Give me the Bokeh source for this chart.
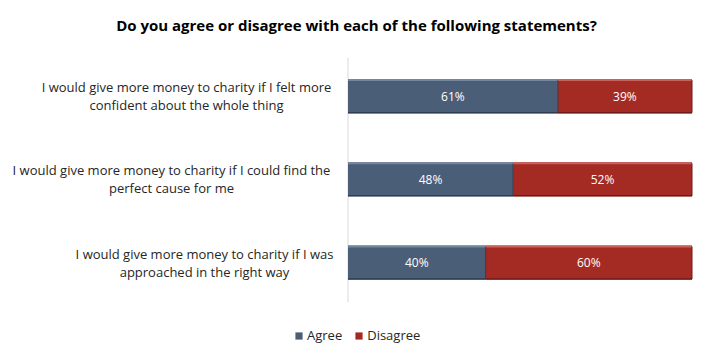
from bokeh.plotting import figure
from bokeh.models import ColumnDataSource, Label, Range1d
from bokeh.embed import file_html
from bokeh.resources import INLINE
from bokeh.core.properties import value

title = "Do you agree or disagree with each of the following statements?"
statements = [
    "I would give more money to charity if I felt more\nconfident about the whole thing",
    "I would give more money to charity if I could find the\nperfect cause for me",
    "I would give more money to charity if I was\napproached in the right way",
]
agree = [61, 48, 40]
disagree = [39, 52, 60]
series = ["Agree", "Disagree"]
colors = ["#4B5E77", "#A32B24"]
edge_colors = ["#2f3d50", "#6e1a16"]
hi_colors = ["#7487a0", "#c8625a"]

W, H = 694, 344
# plot-area box in canvas pixels
PL, PR, PT, PB = 347.5, 691.5, 54, 303.6
AXIS_TOP, AXIS_BOT = 57, 302
FONT = "Open Sans"

n = len(statements)
ys = [n - i - 0.5 for i in range(n)]
BAR_H = 0.41

sx = (PR - PL) / 100.0          # px per x unit
sy = (PB - PT) / n              # px per y unit
x_start = -PL / sx
x_end = 100 + (W - PR) / sx
y_start = -(H - PB) / sy
y_end = n + PT / sy


def dx(px):
    return (px - PL) / sx


def dy(py):
    return (PB - py) / sy


p = figure(width=W, height=H, output_backend="svg", toolbar_location=None,
           x_range=Range1d(x_start, x_end), y_range=Range1d(y_start, y_end),
           min_border=0)
p.outline_line_color = None
p.xgrid.visible = False
p.ygrid.visible = False
p.xaxis.visible = False
p.yaxis.visible = False

src = ColumnDataSource(dict(
    y=ys,
    ytop=[y + BAR_H / 2 - 1.0 / sy for y in ys],
    ybot=[y - BAR_H / 2 + 0.5 / sy for y in ys],
    a0=[0] * n, a1=agree,
    d0=agree, d1=[a + d for a, d in zip(agree, disagree)],
    amid=[a / 2 for a in agree],
    dmid=[a + d / 2 for a, d in zip(agree, disagree)],
    atxt=[f"{a}%" for a in agree],
    dtxt=[f"{d}%" for d in disagree],
))

# category axis line
p.segment(x0=[0], y0=[dy(AXIS_BOT)], x1=[0], y1=[dy(AXIS_TOP)],
          line_color="#d9d9d9", line_width=1)

p.hbar(y="y", left="a0", right="a1", height=BAR_H, source=src,
       fill_color=colors[0], line_color=None, legend_label=series[0])
p.hbar(y="y", left="d0", right="d1", height=BAR_H, source=src,
       fill_color=colors[1], line_color=None, legend_label=series[1])
# bevel: light top edge, dark bottom edge
for (x0, x1), hi, lo in ((("a0", "a1"), hi_colors[0], edge_colors[0]),
                         (("d0", "d1"), hi_colors[1], edge_colors[1])):
    p.segment(x0=x0, y0="ytop", x1=x1, y1="ytop", source=src,
              line_color=hi, line_width=2)
    p.segment(x0=x0, y0="ybot", x1=x1, y1="ybot", source=src,
              line_color=lo, line_width=1.5)
    p.segment(x0=x1, y0="ybot", x1=x1, y1="ytop", source=src,
              line_color=lo, line_width=1)

for xcol, tcol in (("amid", "atxt"), ("dmid", "dtxt")):
    p.text(x=xcol, y="y", text=tcol, source=src, text_color="white",
           text_align="center", text_baseline="middle",
           text_font=value(FONT), text_font_size="12px")

# category labels (multi-line, centred lines, block right-aligned)
right_edge = 333
char_w = 6.0
line_gap = 18
for s, yc in zip(statements, ys):
    lines = s.split("\n")
    block_w = max(len(l) for l in lines) * char_w
    cx = dx(right_edge - block_w / 2)
    for j, line in enumerate(lines):
        off = (len(lines) - 1) / 2 * line_gap - j * line_gap
        p.add_layout(Label(x=cx, y=yc + off / sy, text=line,
                           text_align="center", text_baseline="middle",
                           text_font=FONT, text_font_size="13px",
                           text_color="#262626"))

# title
p.add_layout(Label(x=dx(356), y=dy(24), text=title,
                   text_align="center", text_baseline="middle",
                   text_font=FONT, text_font_size="15px", text_font_style="bold",
                   text_color="#000000"))

leg = p.legend[0]
leg.orientation = "horizontal"
leg.location = (294, 0)
leg.border_line_alpha = 0
leg.background_fill_alpha = 0
leg.padding = 0
leg.margin = 0
leg.spacing = 12
leg.glyph_width = 9
leg.glyph_height = 9
leg.label_standoff = 4
leg.label_height = 12
leg.label_text_font = FONT
leg.label_text_font_size = "13px"
leg.label_text_color = "#262626"

open("out.html", "w").write(file_html(p, INLINE))
